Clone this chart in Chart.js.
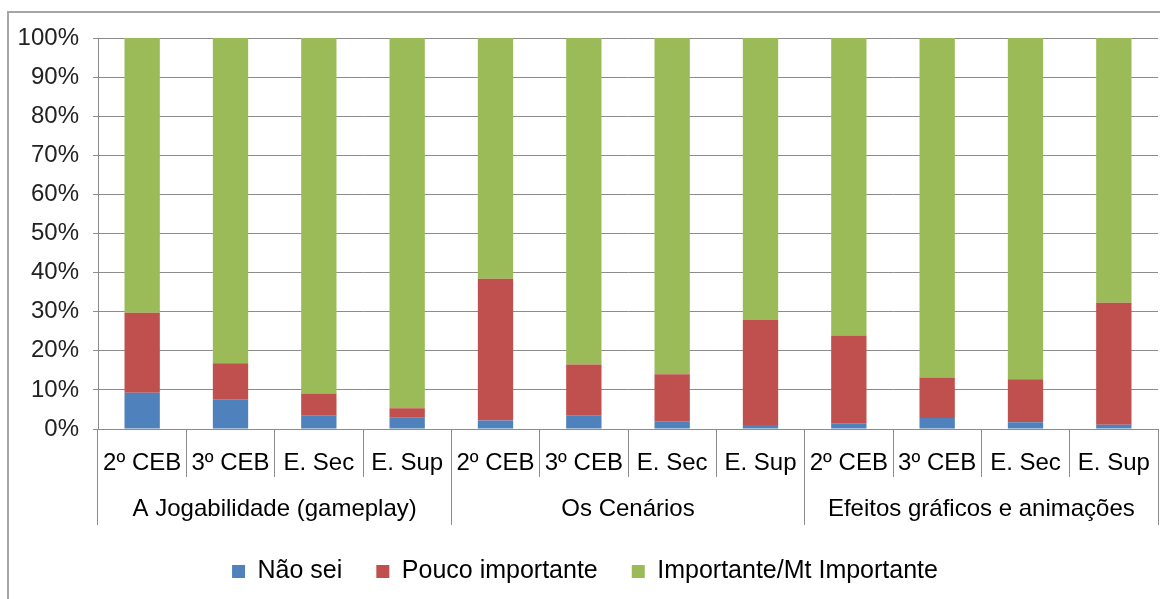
<!DOCTYPE html>
<html>
<head>
<meta charset="utf-8">
<script src="https://cdn.jsdelivr.net/npm/chart.js@4"></script>
<style>
  body { margin: 0; background: #fff; }
  #wrap { position: relative; width: 1160px; height: 599px; overflow: hidden; }
  #frame { position: absolute; left: 7px; top: 11px; width: 1200px; height: 700px; border-left: 2px solid #a6a6a6; border-top: 2px solid #a6a6a6; }
</style>
</head>
<body>
<div id="wrap">
  <div id="frame"></div>
  <canvas id="chart"></canvas>
</div>
<script>
const categories = ['2º CEB', '3º CEB', 'E. Sec', 'E. Sup', '2º CEB', '3º CEB', 'E. Sec', 'E. Sup', '2º CEB', '3º CEB', 'E. Sec', 'E. Sup'];
const groups = ['A Jogabilidade (gameplay)', 'Os Cenários', 'Efeitos gráficos e animações'];
const naoSei = [9.3, 7.6, 3.4, 2.9, 2.2, 3.4, 2.0, 1.0, 1.5, 2.8, 1.7, 1.1];
const poucoImportante = [20.4, 9.2, 5.7, 2.4, 36.2, 13.1, 12.0, 26.9, 22.4, 10.4, 11.0, 31.2];
const importante = [70.3, 83.2, 90.9, 94.7, 61.6, 83.5, 86.0, 72.1, 76.1, 86.8, 87.3, 67.7];
const yTicks = [0, 10, 20, 30, 40, 50, 60, 70, 80, 90, 100];

const font = { family: '"Liberation Sans", Arial, sans-serif', size: 24 };
const gridGray = '#8c8c8c';

// keep the legend band short while still spacing the items widely
const legendHeight = {
    id: 'legendHeight',
    beforeInit(chart) {
        const fit = chart.legend.fit;
        chart.legend.fit = function () {
            fit.call(this);
            this.height = 74;
        };
    }
};

new Chart(document.getElementById('chart'), {
    type: 'bar',
    data: {
        labels: categories,
        datasets: [
            { label: 'Não sei', data: naoSei, backgroundColor: '#4f81bd' },
            { label: 'Pouco importante', data: poucoImportante, backgroundColor: '#c0504d' },
            { label: 'Importante/Mt Importante', data: importante, backgroundColor: '#9bbb59' }
        ]
    },
    options: {
        responsive: true,
        maintainAspectRatio: false,
        animation: false,
        categoryPercentage: 1,
        barPercentage: 0.4,
        layout: { padding: { left: 12, right: 2, top: 38, bottom: 0 } },
        plugins: {
            tooltip: { enabled: false },
            legend: {
                position: 'bottom',
                labels: { color: '#000', font: { family: font.family, size: 25 }, boxWidth: 13, boxHeight: 13, padding: 34 }
            }
        },
        scales: {
            x: {
                stacked: true,
                grid: { offset: true, drawOnChartArea: false, tickLength: 48, color: gridGray },
                border: { color: gridGray },
                ticks: { color: '#000', font: font, maxRotation: 0, autoSkip: false, padding: -28 },
                afterFit: s => { s.height = 48; }
            },
            x2: {
                type: 'category',
                labels: groups,
                position: 'bottom',
                offset: true,
                grid: { offset: true, drawOnChartArea: false, tickLength: 48, color: gridGray },
                border: { display: false },
                ticks: { color: '#000', font: font, maxRotation: 0, autoSkip: false, padding: -30 },
                afterFit: s => { s.height = 48; }
            },
            y: {
                stacked: true,
                min: 0,
                max: 100,
                afterBuildTicks: s => { s.ticks = yTicks.map(v => ({ value: v })); },
                grid: { color: gridGray, tickLength: 5 },
                border: { color: gridGray },
                ticks: { color: '#222', font: font, padding: 14, callback: v => v + '%' },
                afterFit: s => { s.width = 86; }
            }
        }
    },
    plugins: [legendHeight]
});
</script>
</body>
</html>
